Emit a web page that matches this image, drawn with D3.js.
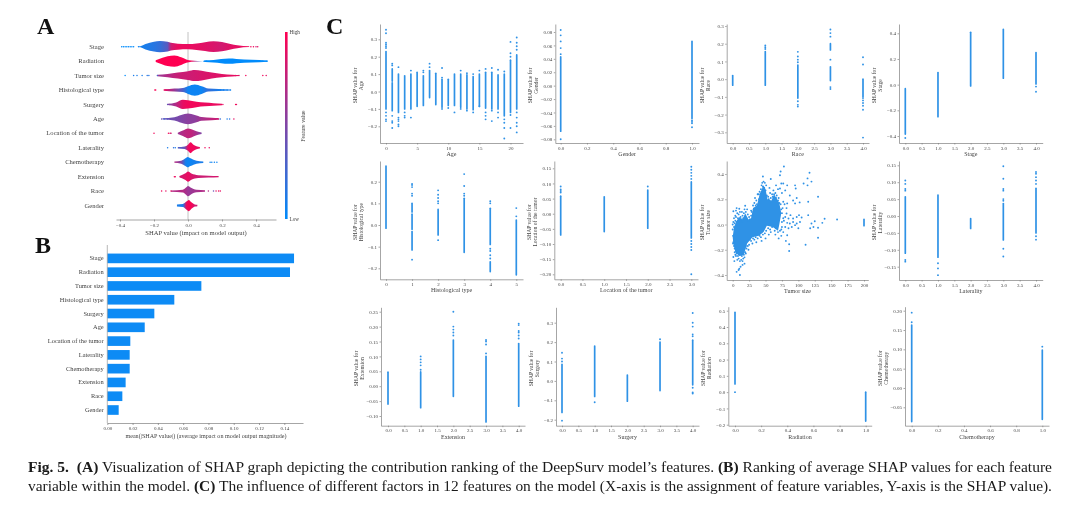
<!DOCTYPE html>
<html>
<head>
<meta charset="utf-8">
<script src="https://cdnjs.cloudflare.com/ajax/libs/d3/7.8.5/d3.min.js"></script>
<style>
  html, body { margin: 0; background: #fff; }
  svg text { font-family: "Liberation Serif", serif; fill: #444; }
  .axis path, .axis line { stroke: #808080; stroke-width: 0.7; }
  .axis text { font-size: 5px; }
  .soft { filter: blur(0.35px); }
</style>
</head>
<body>
<svg id="chart" width="1080" height="512"></svg>
<script>
// ---- panel A / B ----
const features = ["Stage", "Radiation", "Tumor size", "Histological type", "Surgery", "Age",
  "Location of the tumor", "Laterality", "Chemotherapy", "Extension", "Race", "Gender"];
const meanShap = [0.1477, 0.1445, 0.0744, 0.053, 0.0372, 0.0296, 0.0182, 0.0177, 0.0177, 0.0145, 0.0119, 0.009];
const summaryTicks = [-0.4, -0.2, 0, 0.2, 0.4];
const meanTicks = [0, 0.02, 0.04, 0.06, 0.08, 0.10, 0.12, 0.14];

// [shap, density, feature value]
const stageViolin = [[-0.3,0,0.05],[-0.28,0.03,0.08],[-0.25,0.3,0.1],[-0.2,0.7,0.15],[-0.165,0.85,0.2],[-0.12,0.7,0.35],[-0.1,0.5,0.8],[-0.06,0.35,0.92],[0,0.28,0.92],[0.05,0.38,0.9],[0.1,0.6,0.88],[0.15,0.8,0.85],[0.2,0.65,0.82],[0.25,0.3,0.88],[0.29,0.12,0.9],[0.36,0.02,0.95]];
const radiationViolin = [[-0.19,0.05,1],[-0.15,0.4,1],[-0.12,0.7,1],[-0.08,0.85,1],[-0.04,0.5,1],[-0.01,0.15,1],[0.02,0.03,0.95],[0.09,0,0.1],[0.1,0.05,0],[0.15,0.1,0],[0.24,0.28,0],[0.33,0.14,0],[0.42,0.08,0],[0.47,0.03,0]];
const tumorViolin = [[-0.18,0.05,0.6],[-0.12,0.15,0.7],[-0.06,0.35,0.78],[0,0.6,0.8],[0.04,0.82,0.82],[0.08,0.7,0.84],[0.14,0.35,0.86],[0.2,0.15,0.88],[0.26,0.06,0.9],[0.3,0.03,0.9]];
const histViolin = [[-0.14,0.04,0.9],[-0.08,0.12,0.6],[-0.03,0.2,0.3],[0,0.5,0.05],[0.04,0.85,0.05],[0.08,0.5,0.05],[0.12,0.14,0.2],[0.18,0.08,0.1],[0.25,0.03,0.1]];
const surgeryViolin = [[-0.12,0.04,0.5],[-0.07,0.2,0.7],[-0.03,0.65,0.9],[0,0.55,0.95],[0.05,0.3,0.95],[0.1,0.18,0.92],[0.15,0.1,0.92],[0.2,0.05,0.92]];
const ageViolin = [[-0.15,0.04,0.4],[-0.08,0.15,0.45],[-0.04,0.5,0.5],[0,0.8,0.55],[0.04,0.5,0.55],[0.08,0.18,0.65],[0.14,0.1,0.75],[0.18,0.05,0.8]];
const locationViolin = [[-0.06,0.04,0.6],[-0.03,0.3,0.7],[0,0.7,0.75],[0.02,0.55,0.75],[0.05,0.2,0.65],[0.08,0.05,0.5]];
const lateralityViolin = [[-0.06,0.04,0.3],[-0.02,0.1,0.4],[0,0.35,0.9],[0.015,0.8,0.95],[0.03,0.4,0.95],[0.05,0.12,0.9],[0.07,0.05,0.9]];
const chemoViolin = [[-0.08,0.04,0.7],[-0.04,0.12,0.5],[-0.015,0.5,0.1],[-0.002,0.75,0.05],[0.015,0.5,0.05],[0.05,0.12,0.1],[0.09,0.05,0.1]];
const extensionViolin = [[-0.05,0.03,0.8],[-0.015,0.4,0.88],[0,0.75,0.92],[0.02,0.35,0.85],[0.06,0.12,0.8],[0.12,0.07,0.8],[0.18,0.03,0.85]];
const raceViolin = [[-0.1,0.04,0.7],[-0.03,0.12,0.7],[-0.01,0.5,0.65],[0,0.75,0.6],[0.015,0.45,0.6],[0.05,0.1,0.65],[0.1,0.05,0.7]];
const genderViolin = [[-0.065,0.07,0.1],[-0.03,0.12,0.1],[-0.01,0.5,0.9],[0.005,0.85,0.97],[0.02,0.4,0.97],[0.04,0.08,0.8],[0.055,0.04,0.8]];

// [shap, feature value]
const stageDots = [[-0.39,0],[-0.38,0],[-0.37,0],[-0.36,0],[-0.35,0],[-0.34,0],[-0.33,0],[-0.32,0],[-0.29,0.05],[0.37,0.95],[0.385,0.95],[0.4,0.8],[0.41,0.9]];
const radiationDots = [[0.095,0],[0.11,0],[0.44,0],[0.46,0]];
const tumorDots = [[-0.37,0],[-0.32,0.1],[-0.3,0.1],[-0.27,0.1],[-0.24,0.15],[-0.23,0.15],[-0.18,0.3],[0.28,0.9],[0.3,0.85],[0.34,0.95],[0.44,0.95],[0.46,0.9]];
const histDots = [[-0.195,0.95],[-0.19,1],[-0.14,0.9],[-0.13,0.9],[0.17,0.1],[0.19,0.05],[0.21,0.05],[0.23,0.05],[0.25,0.05]];
const surgeryDots = [[-0.12,0.4],[-0.11,0.5],[0.205,0.9],[0.28,1],[0.285,0.9]];
const ageDots = [[-0.155,0.4],[-0.14,0.2],[-0.12,0.3],[0.18,0.75],[0.19,0.2],[0.23,0.1],[0.245,0.15],[0.27,0.9]];
const locationDots = [[-0.2,0.95],[-0.115,0.95],[-0.105,0.9],[-0.1,0.8]];
const lateralityDots = [[-0.12,0.1],[-0.085,0.2],[-0.075,0.1],[0.1,0.95],[0.125,0.9]];
const chemoDots = [[0.13,0.05],[0.14,0.05],[0.155,0.05],[0.17,0.05]];
const extensionDots = [[-0.08,0.95],[-0.075,0.9],[-0.045,0.9]];
const raceDots = [[-0.155,0.95],[-0.13,0.9],[-0.1,0.9],[0.12,0.7],[0.15,0.4],[0.165,0.9],[0.18,0.95],[0.19,0.9]];
const genderDots = [];

const violins = [stageViolin, radiationViolin, tumorViolin, histViolin, surgeryViolin, ageViolin,
  locationViolin, lateralityViolin, chemoViolin, extensionViolin, raceViolin, genderViolin];
const violinDots = [stageDots, radiationDots, tumorDots, histDots, surgeryDots, ageDots,
  locationDots, lateralityDots, chemoDots, extensionDots, raceDots, genderDots];

// ---- panel C: [x, low, high] are the solid runs, [x, y] the separate dots ----
const ageStrips = [[0,-0.1,0.23],[1,-0.11,0.05],[1,0.06,0.13],[2,-0.12,0.1],[3,-0.1,0.09],[4,-0.1,0.1],[5,-0.085,0.11],[6,-0.08,0.09],[7,-0.035,0.12],[8,-0.075,0.105],[9,-0.09,0.07],[10,-0.08,0.07],[11,-0.08,0.1],[12,-0.09,0.1],[13,-0.1,0.095],[14,-0.105,0.085],[15,-0.085,0.1],[16,-0.095,0.11],[17,-0.1,0.11],[18,-0.1,0.095],[19,-0.14,0.1],[20,-0.12,0.18],[21,-0.1,0.21]];
const agePoints = [[0,0.355],[0,0.335],[0,0.28],[0,0.27],[0,0.26],[0,0.25],[0,-0.12],[0,-0.14],[0,-0.16],[0,-0.17],[1,0.16],[1,0.15],[1,-0.14],[1,-0.18],[1,-0.21],[1,-0.17],[2,0.14],[2,-0.15],[2,-0.16],[2,-0.17],[2,-0.19],[2,-0.2],[3,-0.12],[3,-0.14],[3,-0.15],[4,0.12],[4,-0.15],[6,0.11],[6,0.12],[7,0.14],[7,0.16],[9,0.08],[9,0.135],[9,-0.1],[10,-0.095],[11,-0.12],[12,0.12],[12,-0.1],[13,0.105],[13,-0.11],[14,0.1],[14,-0.12],[15,0.12],[15,-0.085],[16,0.13],[16,-0.12],[16,-0.14],[16,-0.16],[17,0.135],[17,-0.11],[17,-0.17],[18,0.125],[18,-0.12],[18,-0.15],[19,0.115],[19,-0.16],[19,-0.18],[19,-0.21],[19,-0.27],[20,0.2],[20,0.22],[20,0.285],[20,-0.135],[20,-0.21],[21,0.24],[21,0.26],[21,0.28],[21,0.31],[21,-0.12],[21,-0.15],[21,-0.18],[21,-0.2],[21,-0.235]];
const genderStrips = [[0,-0.068,0.043],[1,-0.049,0.066]];
const genderPoints = [[0,0.083],[0,0.075],[0,0.066],[0,0.056],[0,0.047],[0,-0.08],[1,-0.052],[1,-0.054],[1,-0.056],[1,-0.062]];
const raceStrips = [[0,-0.034,0.02],[1,-0.034,0.155],[2,-0.107,0.08],[3,-0.008,0.07],[3,0.165,0.2],[4,-0.1,0]];
const racePoints = [[1,0.19],[1,0.18],[1,0.17],[2,0.154],[2,0.128],[2,0.11],[2,0.095],[2,-0.125],[2,-0.145],[2,-0.155],[3,0.28],[3,0.26],[3,0.24],[3,0.11],[3,-0.045],[3,-0.056],[4,0.124],[4,0.083],[4,-0.107],[4,-0.12],[4,-0.135],[4,-0.15],[4,-0.173],[4,-0.33]];
const stageStrips = [[0,-0.385,-0.031],[1,-0.25,0.094],[2,-0.01,0.408],[3,0.05,0.43],[4,0.005,0.25]];
const stagePoints = [[0,-0.415],[4,-0.015],[4,-0.055]];
const histStrips = [[0,-0.015,0.272],[1,-0.115,-0.03],[1,-0.02,0.05],[1,0.06,0.1],[2,-0.046,0.072],[3,-0.126,0.123],[4,-0.09,0.077],[4,-0.215,-0.17],[5,-0.23,0.023]];
const histPoints = [[1,0.19],[1,0.185],[1,0.175],[1,0.145],[1,0.135],[1,-0.16],[2,0.16],[2,0.14],[2,0.125],[2,0.11],[2,0.1],[2,-0.07],[3,0.235],[3,0.18],[3,0.145],[3,0.135],[4,0.11],[4,0.1],[4,-0.11],[4,-0.12],[4,-0.14],[4,-0.155],[5,0.078],[5,0.04]];
const locationStrips = [[0,-0.07,0.058],[1,-0.059,0.056],[2,-0.048,0.078],[3,-0.08,0.105]];
const locationPoints = [[0,0.09],[0,0.08],[0,0.075],[0,0.07],[2,0.09],[3,0.155],[3,0.145],[3,0.135],[3,0.125],[3,0.115],[3,-0.09],[3,-0.1],[3,-0.11],[3,-0.12],[3,-0.2]];
const tumorStrips = [[200,-0.01,0.04]];
const tumorDense = [[0,-0.1],[2,-0.02],[6,0.03],[10,0.06],[15,0.04],[19,0.09],[24,0.04],[28,0.05],[31,0.13],[37,0.15],[41,0.24],[47,0.31],[50,0.28],[53,0.2],[59,0.19],[63,0.24],[71,0.17],[74,0.09],[71,0],[69,-0.05],[61,-0.02],[52,-0.01],[47,-0.06],[40,-0.09],[30,-0.1],[22,-0.15],[17,-0.24],[10,-0.25],[4,-0.22],[1,-0.15]];
const tumorPoints = [[72,0.39],[78,0.46],[73,0.42],[58,0.36],[114,0.365],[117,0.41],[120,0.34],[114,0.31],[130,0.22],[115,0.18],[102,0.175],[97.5,0.21],[95,0.167],[108,0.325],[95,0.31],[96,0.285],[83,0.31],[77,0.325],[74,0.325],[72,0.285],[80,0.27],[87,0.23],[92,0.19],[83,0.167],[77,0.18],[140,0.045],[159,0.04],[136.5,0.013],[125,0.026],[120,0.008],[123,-0.02],[118,-0.03],[130,-0.026],[130,-0.105],[111,-0.16],[80,0.06],[82,0.087],[85,0.048],[88,0.074],[92,0.048],[97.5,0.06],[101,0.074],[105,0.055],[83,0.013],[87,0.008],[92,0.02],[97.5,0.008],[102.5,0.02],[80,-0.02],[85,-0.03],[90,-0.02],[95,-0.005],[100,-0.03],[115,0.074],[77,-0.06],[83,-0.085],[81,-0.13],[86,-0.156],[86,-0.21],[11,-0.4],[9,-0.36],[12,-0.335],[6,-0.375],[15,-0.32],[2.5,-0.29],[1,-0.257],[18,-0.31],[10,-0.35],[1,0.105],[19,0.148],[5,0.11],[10,0.125],[14,0.1],[22,0.12],[28,0.11],[34,0.21],[38,0.24],[44,0.31],[46,0.38],[56,0.29],[66,0.31],[69,0.28],[75,0.25],[79,0.16],[82,0.13],[78,0.03],[75,-0.02],[74,-0.09],[70,-0.11],[65,-0.08],[58,-0.06],[55,-0.08],[50,-0.11],[44,-0.13],[36,-0.14],[30,-0.15],[24,-0.2],[20,-0.23],[18,-0.26],[15,-0.29],[5,-0.25],[3,-0.22],[0.5,-0.15],[2,0.05],[4,0.07],[6,0.13],
  [1,0.02],[2,-0.02],[3,0.01],[4,0.03],[5,0.06],[6,0.02],[7,0.09],[8,0.05],[9,0.08],[10,0.03],[11,0.1],[12,0.06],[13,0.02],[14,0.04],[15,0.07],[16,0.05],[17,0.09],[18,0.12],[19,0.06],[20,0.1],[21,0.05],[23,0.08],[24,0.03],[25,0.06],[26,0.04],[28,0.07],[29,0.1],[31,0.15],[32,0.12],[33,0.17],[35,0.15],[36,0.19],[37,0.16],[39,0.24],[40,0.2],[41,0.26],[42,0.24],[43,0.28],[44,0.25],[45,0.33],[46,0.3],[47,0.34],[48,0.29],[49,0.33],[50,0.27],[51,0.31],[52,0.23],[54,0.22],[55,0.2],[57,0.25],[58,0.21],[60,0.24],[61,0.22],[62,0.27],[63,0.24],[65,0.25],[66,0.21],[67,0.23],[69,0.19],[70,0.21],[71,0.17],[73,0.16],[74,0.12],[75,0.09],[76,0.13],[77,0.05],[75,0.02],[74,-0.04],[72,-0.05],[69,-0.06],[66,-0.03],[64,-0.05],[60,-0.02],[57,-0.04],[54,-0.03],[51,-0.05],[49,-0.07],[46,-0.08],[43,-0.1],[41,-0.09],[38,-0.11],[35,-0.1],[33,-0.12],[31,-0.11],[28,-0.13],[26,-0.12],[25,-0.16],[23,-0.17],[21,-0.19],[20,-0.17],[19,-0.22],[17,-0.24],[16,-0.27],[14,-0.25],[13,-0.28],[12,-0.24],[11,-0.29],[9,-0.27],[8,-0.25],[7,-0.28],[6,-0.23],[5,-0.21],[4,-0.24],[3,-0.19],[2,-0.17],[1,-0.14],[0.5,-0.09],[0,-0.04],[0,0]];
const lateralityStrips = [[0,-0.11,0.057],[1,-0.122,0.062],[2,-0.037,-0.008],[3,-0.071,0.037],[4,-0.05,0.082]];
const lateralityPoints = [[0,0.105],[0,0.095],[0,0.08],[0,0.075],[0,-0.13],[0,-0.135],[1,-0.14],[1,-0.155],[1,-0.175],[3,0.147],[3,0.11],[3,0.08],[3,0.075],[3,0.05],[3,0.045],[3,-0.097],[3,-0.12],[4,0.13],[4,0.125],[4,0.115],[4,0.105],[4,0.095],[4,-0.06],[4,-0.07]];
const extensionStrips = [[0,-0.06,0.047],[1,-0.072,0.048],[2,-0.034,0.155],[3,-0.12,0.1],[4,-0.067,0.143]];
const extensionPoints = [[1,0.1],[1,0.09],[1,0.08],[1,0.07],[1,0.055],[2,0.25],[2,0.2],[2,0.19],[2,0.18],[2,0.17],[3,0.155],[3,0.15],[3,0.14],[3,0.11],[4,0.21],[4,0.205],[4,0.185],[4,0.18],[4,0.17],[4,0.16]];
const surgeryStrips = [[0,-0.163,0.085],[1,-0.08,0.18],[2,-0.105,0.03],[3,-0.05,0.2],[4,-0.02,0.21]];
const surgeryPoints = [[0,0.145],[0,0.115],[0,0.1],[0,-0.205],[1,-0.11],[3,0.215],[4,0.35],[4,0.3],[4,0.28],[4,0.24],[4,0.23],[4,-0.035],[4,-0.06],[4,-0.065]];
const radiationStrips = [[0,0.05,0.49],[1,-0.178,0]];
const radiationPoints = [[0,0]];
const chemoStrips = [[0,-0.087,0.163],[1,-0.081,0.098]];
const chemoPoints = [[0,0.195],[0,0.17],[1,0.107]];

const xNames = ["Age", "Gender", "Race", "Stage", "Histological type", "Location of the tumor",
  "Tumor size", "Laterality", "Extension", "Surgery", "Radiation", "Chemotherapy"];
const xTickSets = [[0,5,10,15,20], [0,0.2,0.4,0.6,0.8,1], [0,0.5,1,1.5,2,2.5,3,3.5,4], [0,0.5,1,1.5,2,2.5,3,3.5,4],
  [0,1,2,3,4,5], [0,0.5,1,1.5,2,2.5,3], [0,25,50,75,100,125,150,175,200], [0,0.5,1,1.5,2,2.5,3,3.5,4],
  [0,0.5,1,1.5,2,2.5,3,3.5,4], [0,0.5,1,1.5,2,2.5,3,3.5,4], [0,0.2,0.4,0.6,0.8,1], [0,0.2,0.4,0.6,0.8,1]];
const yTickSets = [[-0.2,-0.1,0,0.1,0.2,0.3], [-0.08,-0.06,-0.04,-0.02,0,0.02,0.04,0.06,0.08], [-0.3,-0.2,-0.1,0,0.1,0.2,0.3], [-0.4,-0.2,0,0.2,0.4],
  [-0.2,-0.1,0,0.1,0.2], [-0.2,-0.15,-0.1,-0.05,0,0.05,0.1,0.15], [-0.4,-0.2,0,0.2,0.4], [-0.15,-0.1,-0.05,0,0.05,0.1,0.15],
  [-0.1,-0.05,0,0.05,0.1,0.15,0.2,0.25], [-0.2,-0.1,0,0.1,0.2,0.3], [-0.2,-0.1,0,0.1,0.2,0.3,0.4,0.5], [-0.05,0,0.05,0.1,0.15,0.2]];
const xFormats = [".0f",".1f",".1f",".1f",".0f",".1f",".0f",".1f",".1f",".1f",".1f",".1f"];
const yFormats = [".1f",".2f",".1f",".1f",".1f",".2f",".1f",".2f",".2f",".1f",".1f",".2f"];
const allStrips = [ageStrips, genderStrips, raceStrips, stageStrips, histStrips, locationStrips,
  tumorStrips, lateralityStrips, extensionStrips, surgeryStrips, radiationStrips, chemoStrips];
const allPoints = [agePoints, genderPoints, racePoints, stagePoints, histPoints, locationPoints,
  tumorPoints, lateralityPoints, extensionPoints, surgeryPoints, radiationPoints, chemoPoints];

const captionLines = [
  [["Fig. 5.", 1], ["  ", 0], ["(A)", 1], [" Visualization of SHAP graph depicting the contribution ranking of the DeepSurv model\u2019s features. ", 0], ["(B)", 1], [" Ranking of average SHAP values for each feature", 0]],
  [["variable within the model. ", 0], ["(C)", 1], [" The influence of different factors in 12 features on the model (X-axis is the assignment of feature variables, Y-axis is the SHAP value).", 0]]
];

// page layout: axes box, then pixel position of first and last tick on each axis
const layout = [
  {l:380, r:523, t:24, b:143, x0:386, x1:510.5, y0:126.3, y1:39.3},
  {l:555.3, r:699, t:24, b:143, x0:560.7, x1:692, y0:139.3, y1:32},
  {l:726.7, r:869, t:24, b:143, x0:732.7, x1:863, y0:132.3, y1:26},
  {l:899, r:1042.7, t:24, b:143, x0:905.3, x1:1036, y0:136, y1:33.3},
  {l:380, r:523, t:161, b:279.3, x0:386, x1:516.3, y0:268.3, y1:181.7},
  {l:554.3, r:698, t:161, b:279.3, x0:560.7, x1:691.3, y0:274.3, y1:168.3},
  {l:726.7, r:868.3, t:161, b:280, x0:732.7, x1:864, y0:275, y1:174},
  {l:899, r:1042.7, t:161, b:280, x0:905.3, x1:1036, y0:266.7, y1:165.3},
  {l:381, r:525, t:307.3, b:425.7, x0:388, x1:518.7, y0:416, y1:311.7},
  {l:556, r:699, t:307.3, b:425.7, x0:562, x1:692.7, y0:419.7, y1:322.7},
  {l:728.3, r:871.7, t:306.7, b:425.7, x0:735, x1:865.7, y0:424.7, y1:310.7},
  {l:905, r:1049, t:306.7, b:425.7, x0:911.7, x1:1042.3, y0:407.3, y1:310.7}
];

const root = d3.select("#chart");
const defs = root.append("defs");
const svg = root.append("g").attr("class", "soft");
const shapBlue = "#008bfb", shapPink = "#ff0051", dotBlue = "#2f92e6";
const featureColor = d3.scaleLinear().domain([0, 1]).range([shapBlue, shapPink]).interpolate(d3.interpolateRgb);

function panelLetter(t, x, y) {
  root.append("text").attr("x", x).attr("y", y)
    .style("font-size", "24px").style("font-weight", "bold").style("fill", "#111").text(t);
}
panelLetter("A", 37, 34);
panelLetter("B", 35, 253);
panelLetter("C", 326, 34);

function drawSummary() {
  const x = d3.scaleLinear().domain([-0.4, 0.4]).range([120, 256]);
  const xAxisScale = x.copy().domain([x.invert(116), x.invert(276)]).range([116, 276]);
  const y = d3.scalePoint().domain(features).range([46.7, 205.5]);
  const density = d3.scalePow().exponent(0.7).domain([0, 1]).range([0, 6.3]);

  svg.append("line").attr("x1", x(0)).attr("x2", x(0)).attr("y1", 32).attr("y2", 219.5)
    .attr("stroke", "#bbb").attr("stroke-width", 0.9);

  features.forEach((f, i) => {
    svg.append("text").attr("x", 104).attr("y", y(f)).attr("dy", "0.32em").attr("text-anchor", "end")
      .style("font-size", "6.6px").text(f);

    const prof = violins[i];
    const first = prof[0][0], last = prof[prof.length - 1][0];
    const grad = defs.append("linearGradient").attr("id", "violin" + i)
      .attr("gradientUnits", "userSpaceOnUse").attr("x1", x(first)).attr("x2", x(last)).attr("y1", 0).attr("y2", 0);
    prof.forEach(p => grad.append("stop")
      .attr("offset", (p[0] - first) / (last - first)).attr("stop-color", featureColor(p[2])));

    const area = d3.area().curve(d3.curveMonotoneX)
      .x(p => x(p[0]))
      .y0(p => y(f) - density(p[1]))
      .y1(p => y(f) + density(p[1]) + 0.01);
    svg.append("path").attr("d", area(prof)).attr("fill", `url(#violin${i})`);

    svg.append("g").selectAll("circle").data(violinDots[i]).enter().append("circle")
      .attr("cx", d => x(d[0])).attr("cy", y(f)).attr("r", 0.75).attr("fill", d => featureColor(d[1]));
  });

  svg.append("g").attr("class", "axis").attr("transform", "translate(0,219.5)")
    .call(d3.axisBottom(xAxisScale).tickValues(summaryTicks).tickSize(2).tickSizeOuter(0).tickPadding(1.5).tickFormat(d3.format(".1f")));
  svg.append("text").attr("x", 196).attr("y", 235).attr("text-anchor", "middle")
    .style("font-size", "6.6px").text("SHAP value (impact on model output)");

  // colour bar
  const cb = defs.append("linearGradient").attr("id", "colorbar").attr("x1", 0).attr("x2", 0).attr("y1", 1).attr("y2", 0);
  cb.append("stop").attr("offset", 0).attr("stop-color", shapBlue);
  cb.append("stop").attr("offset", 1).attr("stop-color", shapPink);
  svg.append("rect").attr("x", 285).attr("y", 32).attr("width", 2.6).attr("height", 187).attr("fill", "url(#colorbar)");
  svg.append("text").attr("x", 289.5).attr("y", 34).style("font-size", "5.2px").text("High");
  svg.append("text").attr("x", 289.5).attr("y", 221).style("font-size", "5.2px").text("Low");
  svg.append("text").attr("transform", "translate(305,126) rotate(-90)").attr("text-anchor", "middle")
    .style("font-size", "5.8px").text("Feature value");
}

function drawMeanBars() {
  const x = d3.scaleLinear().domain([0, 0.14]).range([107.3, 284.3]);
  const xAxisScale = x.copy().domain([0, x.invert(303)]).range([107.3, 303]);
  const y = d3.scaleBand().domain(features).range([251.5, 416.9]).paddingInner(0.3).paddingOuter(0.15);

  svg.append("g").selectAll("rect").data(features).enter().append("rect")
    .attr("x", x(0)).attr("y", d => y(d))
    .attr("width", (d, i) => x(meanShap[i]) - x(0)).attr("height", y.bandwidth())
    .attr("fill", "#0d8bf5");

  svg.append("g").selectAll("text").data(features).enter().append("text")
    .attr("x", 103.7).attr("y", d => y(d) + y.bandwidth() / 2).attr("dy", "0.32em").attr("text-anchor", "end")
    .style("font-size", "6.4px").text(d => d);

  svg.append("g").attr("class", "axis").attr("transform", "translate(0,423)")
    .call(d3.axisBottom(xAxisScale).tickValues(meanTicks).tickSize(2).tickSizeOuter(0).tickPadding(1).tickFormat(d3.format(".2f")));
  svg.append("line").attr("x1", x(0)).attr("x2", x(0)).attr("y1", 245).attr("y2", 423)
    .attr("stroke", "#999").attr("stroke-width", 0.7);
  svg.append("text").attr("x", 206).attr("y", 438).attr("text-anchor", "middle")
    .style("font-size", "6.1px").text("mean(|SHAP value|) (average impact on model output magnitude)");
}

function drawDependence(i) {
  const box = layout[i], xt = xTickSets[i], yt = yTickSets[i];
  const x = d3.scaleLinear().domain([xt[0], xt[xt.length - 1]]).range([box.x0, box.x1]);
  const y = d3.scaleLinear().domain([yt[0], yt[yt.length - 1]]).range([box.y0, box.y1]);
  x.domain([x.invert(box.l), x.invert(box.r)]).range([box.l, box.r]);
  y.domain([y.invert(box.b), y.invert(box.t)]).range([box.b, box.t]);

  const g = svg.append("g");

  if (xNames[i] === "Tumor size") {
    const outline = d3.line().x(d => x(d[0])).y(d => y(d[1])).curve(d3.curveLinearClosed);
    g.append("path").attr("d", outline(tumorDense)).attr("fill", dotBlue);
  }

  g.selectAll(".strip").data(allStrips[i]).enter().append("line")
    .attr("class", "strip")
    .attr("x1", d => x(d[0])).attr("x2", d => x(d[0]))
    .attr("y1", d => y(d[1])).attr("y2", d => y(d[2]))
    .attr("stroke", dotBlue).attr("stroke-width", 1.7).attr("stroke-linecap", "round");

  g.selectAll(".dot").data(allPoints[i]).enter().append("circle")
    .attr("class", "dot")
    .attr("cx", d => x(d[0])).attr("cy", d => y(d[1])).attr("r", 0.95)
    .attr("fill", dotBlue);

  g.append("g").attr("class", "axis").attr("transform", `translate(0,${box.b})`)
    .call(d3.axisBottom(x).tickValues(xt).tickSize(1.5).tickSizeOuter(0).tickPadding(1.5).tickFormat(d3.format(xFormats[i])));
  g.append("g").attr("class", "axis").attr("transform", `translate(${box.l},0)`)
    .call(d3.axisLeft(y).tickValues(yt).tickSize(1.5).tickSizeOuter(0).tickPadding(1.5).tickFormat(d3.format(yFormats[i])));

  g.append("text").attr("x", (box.l + box.r) / 2).attr("y", box.b + 13).attr("text-anchor", "middle")
    .style("font-size", "6px").text(xNames[i]);

  const mid = (box.t + box.b) / 2 + 2;
  const ylab = g.append("text").attr("transform", `translate(${box.l - 23},${mid}) rotate(-90)`)
    .attr("text-anchor", "middle").style("font-size", "5.6px");
  ylab.append("tspan").attr("x", 0).attr("dy", 0).text("SHAP value for");
  ylab.append("tspan").attr("x", 0).attr("dy", "1.05em").text(xNames[i]);
}

function drawCaption() {
  captionLines.forEach((line, i) => {
    const t = root.append("text").attr("x", 28).attr("y", 471.5 + i * 19)
      .attr("textLength", 1024).attr("lengthAdjust", "spacingAndGlyphs")
      .style("font-size", "14.4px").style("fill", "#1a1a1a").style("white-space", "pre");
    line.forEach(p => t.append("tspan").style("font-weight", p[1] ? "bold" : "normal").text(p[0]));
  });
}

drawSummary();
drawMeanBars();
xNames.forEach((n, i) => drawDependence(i));
drawCaption();
</script>
</body>
</html>
